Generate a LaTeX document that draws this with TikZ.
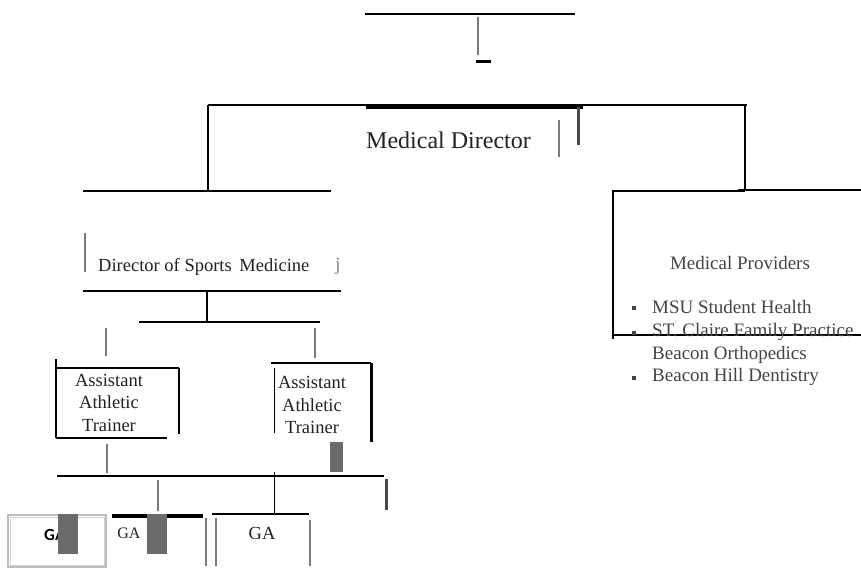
\documentclass[tikz,border=0pt]{standalone}
\usepackage{fontspec}
\setmainfont{Liberation Serif}
\newfontfamily\calfont{Carlito}
\definecolor{lgray}{HTML}{7A7A7A}
\definecolor{mgray}{HTML}{6B6B6B}
\definecolor{dgray}{HTML}{4A4A4A}
\definecolor{boxgray}{HTML}{BDBDBD}
\definecolor{txt}{HTML}{222222}
\definecolor{ltxt}{HTML}{444444}
\tikzset{
  thinln/.style={line width=1.4pt, black},
  midln/.style={line width=2pt, black},
  thickln/.style={line width=3.5pt, black},
  grayln/.style={line width=2.8pt, lgray},
  dgrayln/.style={line width=3pt, dgray},
  lbl/.style={inner sep=0pt, text=txt},
  provtxt/.style={inner sep=0pt, anchor=west, text=ltxt, font=\fontsize{19}{22}\selectfont},
  bulletsq/.style={fill=ltxt, draw=none, minimum size=4pt, inner sep=0pt},
  trainer/.style={inner sep=0pt, text=txt, align=center, font=\fontsize{18.5}{22.5}\selectfont},
}
\begin{document}
\begin{tikzpicture}[x=1pt,y=-1pt]
\useasboundingbox (0,0) rectangle (861,571);
\fill[white] (0,0) rectangle (861,571);

% top
\draw[line width=2.5pt] (365,14) -- (575,14);
\draw[grayln] (478,17) -- (478,55);
\fill[black] (476,60) rectangle (491,63);

% medical director level
\draw[thinln] (208,105) -- (747,105);
\draw[thickln] (366,107.5) -- (583,107.5);
\draw[thinln] (208,105) -- (208,191);
\draw[midln] (83,191) -- (331,191);
\draw[grayln] (559,120) -- (559,157);
\draw[dgrayln] (578,107) -- (578,145);
\node[lbl, font=\fontsize{24}{28}\selectfont] (md) at (448.5,140) {Medical Director};

% right branch: medical providers
\draw[midln] (745,105) -- (745,191);
\draw[line width=2.5pt] (738,190) -- (861,190);
\draw[thinln] (613,191) -- (745,191);
\draw[midln] (613,190) -- (613,339);
\draw[thinln] (612,335) -- (861,335);
\node[lbl, text=ltxt, font=\fontsize{19}{22}\selectfont] (mp) at (740,263) {Medical Providers};
\node[bulletsq] (b1) at (633.5,308) {};
\node[bulletsq] (b2) at (633.5,333) {};
\node[bulletsq] (b4) at (633.5,377.5) {};
\node[provtxt] (p1) at (652,307) {MSU Student Health};
\node[provtxt] (p2) at (652,332) {ST. Claire Family Practice};
\node[provtxt] (p3) at (652,355) {Beacon Orthopedics};
\node[provtxt] (p4) at (652,377) {Beacon Hill Dentistry};

% director of sports medicine
\draw[grayln] (85,233) -- (85,272);
\node[lbl, anchor=west, font=\fontsize{18.5}{22}\selectfont] (dsm) at (98,266.5) {Director of Sports\, Medicine};
\node[lbl, text=lgray, font=\fontsize{18.5}{22}\selectfont] (jj) at (338,266) {j};
\draw[midln] (83,291) -- (341,291);
\draw[line width=1.5pt] (207,291) -- (207,322);
\draw[line width=2.5pt] (139,322) -- (320,322);
\draw[grayln] (106,328) -- (106,356);
\draw[grayln] (315,328) -- (315,358);

% left assistant trainer box
\draw[line width=2.5pt] (56,359) -- (56,438);
\draw[thinln] (56,368) -- (179,368);
\draw[thinln] (179,368) -- (179,434);
\draw[line width=1.5pt] (56,438) -- (167,438);
\node[trainer] (at1) at (109,402.5) {Assistant\\Athletic\\Trainer};

% right assistant trainer box
\draw[line width=1.5pt] (271,363) -- (371,363);
\draw[line width=3pt] (371,363) -- (371,442);
\draw[line width=1pt] (274,368) -- (274,433);
\node[trainer] (at2) at (312,405) {Assistant\\Athletic\\Trainer};
\fill[mgray] (330,442) rectangle (343,472);

% GA level
\draw[grayln] (107,444) -- (107,473);
\draw[line width=2.5pt] (57,476) -- (384,476);
\draw[line width=3pt, dgray] (386,479) -- (386,510);
\draw[line width=1pt] (274,472) -- (274,514);
\draw[grayln] (158,480) -- (158,511);
\draw[thickln] (112,516) -- (203,516);
\draw[midln] (212,514) -- (309,514);

% first GA (light gray box)
\draw[line width=1.4pt, boxgray] (8,515) rectangle (106,567);
\draw[line width=0.8pt, boxgray!70] (10,517.5) rectangle (104,565);
\node[lbl, text=black, anchor=west, font=\calfont\bfseries\fontsize{17}{20}\selectfont] (ga1) at (44,535) {GA};
\fill[mgray] (58,514) rectangle (78,554);

% second GA
\node[lbl, text=txt, font=\fontsize{16}{20}\selectfont] (ga2) at (129,533) {GA};
\fill[mgray] (147,514) rectangle (167,554);
\draw[grayln] (206,518) -- (206,566);
\draw[grayln] (216,518) -- (216,566);

% third GA
\node[lbl, font=\fontsize{18.5}{22}\selectfont] (ga3) at (262,533) {GA};
\draw[grayln] (310,520) -- (310,566);
\end{tikzpicture}
\end{document}
